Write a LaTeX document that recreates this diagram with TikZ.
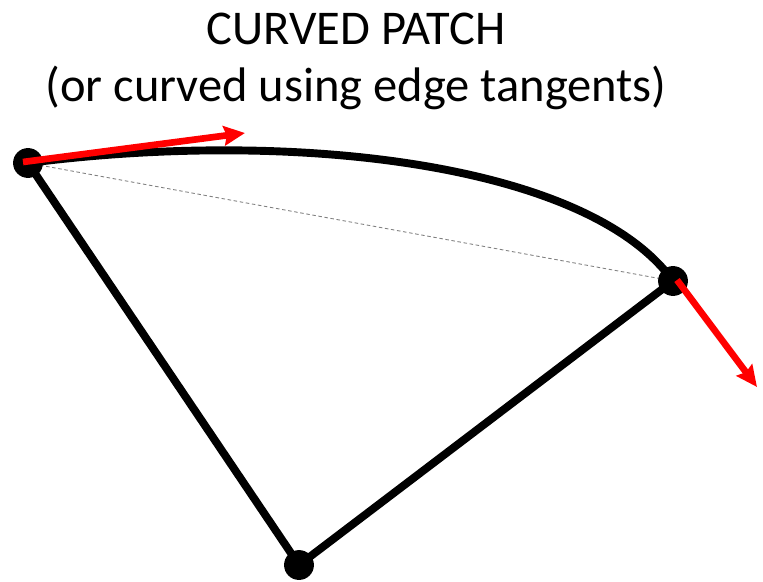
\documentclass[tikz,border=0pt]{standalone}
\usepackage{fontspec}
\setmainfont{Carlito}
\usetikzlibrary{arrows.meta}
\tikzset{
  vertex/.style={circle,fill=black,inner sep=0pt,minimum size=17pt},
  edge/.style={line width=4.5pt},
  tangent/.style={red,line width=3.8pt,-{Stealth[length=12pt,width=11pt,inset=1.5pt]}},
  title/.style={anchor=base,font=\fontsize{27.6}{33}\selectfont}
}
\begin{document}
\begin{tikzpicture}[x=0.02cm,y=-0.02cm]
\useasboundingbox (0,0) rectangle (763,581);
\node[title] (t1) at (356,45) {CURVED PATCH};
\node[title] (t2) at (356,101) {(or curved using edge tangents)};
\coordinate (a) at (28,163);
\coordinate (b) at (673,281);
\coordinate (c) at (299,565);
\coordinate (ta) at (245,133);
\coordinate (tb) at (757,387);
\draw[gray,dashed,line width=0.5pt,dash pattern=on 2pt off 1.5pt] (a) -- (b);
\draw[edge] (a) .. controls (300,128) and (590,165) .. (b);
\draw[edge] (a) -- (c) -- (b);
\node[vertex] (va) at (a) {};
\node[vertex] (vb) at (b) {};
\node[vertex] (vc) at (c) {};
\draw[tangent] (23,162) -- (ta);
\draw[tangent] (677,280) -- (tb);
\end{tikzpicture}
\end{document}
